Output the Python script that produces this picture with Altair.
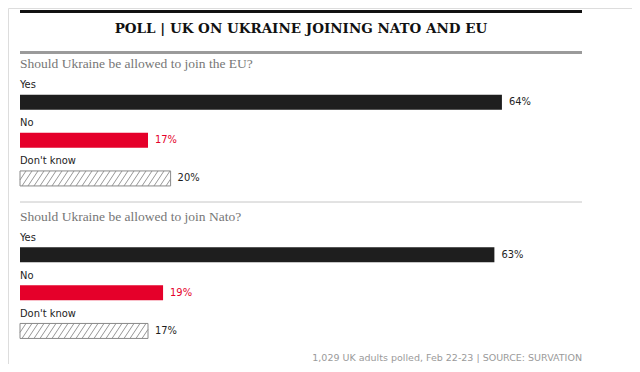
import altair as alt
import pandas as pd

# ---- data ----
QUESTIONS = ["Should Ukraine be allowed to join the EU?", "Should Ukraine be allowed to join Nato?"]
ANSWERS = ["Yes", "No", "Don't know"]
EU_VALUES = [64, 17, 20]
NATO_VALUES = [63, 19, 17]
TITLE = "POLL | UK ON UKRAINE JOINING NATO AND EU"
FOOTER = "1,029 UK adults polled, Feb 22-23 | SOURCE: SURVATION"

# ---- layout constants ----
W, H = 624, 356
X0, PX_PER_PCT = 12, 7.53
Y_TOP, Y_BOT = 37, 342
ROW_PX = (Y_BOT - Y_TOP) / 8
BAR_PX = 15
HATCH_RUN, HATCH_STEP = 10, 6

rows = []
for qi, vals in enumerate([EU_VALUES, NATO_VALUES]):
    for ai, (ans, v) in enumerate(zip(ANSWERS, vals)):
        rows.append({"question": QUESTIONS[qi], "answer": ans, "value": v,
                     "row": qi * 4 + ai + 1, "label": f"{v}%"})
df = pd.DataFrame(rows)
qdf = pd.DataFrame({"question": QUESTIONS, "row": [i * 4 for i in range(len(QUESTIONS))]})

# hatch segments for the "Don't know" bars, clipped to each bar
half = BAR_PX / 2 / ROW_PX
segs = []
for _, r in df[df["answer"] == "Don't know"].iterrows():
    wpx = r["value"] * PX_PER_PCT
    s = -HATCH_RUN
    while s < wpx:
        t0 = max(0.0, (0 - s) / HATCH_RUN)
        t1 = min(1.0, (wpx - s) / HATCH_RUN)
        if t1 > t0:
            segs.append({
                "x": (s + t0 * HATCH_RUN) / PX_PER_PCT,
                "x2": (s + t1 * HATCH_RUN) / PX_PER_PCT,
                "y": r["row"] + half - t0 * 2 * half,
                "y2": r["row"] + half - t1 * 2 * half,
            })
        s += HATCH_STEP
hdf = pd.DataFrame(segs)

xs = alt.Scale(domain=[0, 100], range=[X0, X0 + 100 * PX_PER_PCT], padding=0, nice=False)
ys = alt.Scale(domain=[-0.5, 7.5], range=[Y_TOP, Y_BOT], padding=0, nice=False, zero=False)
X = alt.X("value:Q", scale=xs, axis=None)
Y = alt.Y("row:Q", scale=ys, axis=None)

base = alt.Chart(df)
solid = base.transform_filter(alt.datum.answer != "Don't know").mark_bar(
    orient="horizontal", size=BAR_PX
).encode(
    x=X, y=Y,
    color=alt.Color("answer:N", scale=alt.Scale(domain=["Yes", "No"], range=["#1e1e1e", "#e5002a"]), legend=None),
)
dk = base.transform_filter(alt.datum.answer == "Don't know").mark_bar(
    orient="horizontal", size=BAR_PX, fill="white", stroke="#8a8a8a", strokeWidth=1
).encode(x=X, y=Y)

hatch = alt.Chart(hdf).mark_rule(color="#8a8a8a", strokeWidth=0.9).encode(
    x=alt.X("x:Q", scale=xs, axis=None), x2="x2:Q",
    y=alt.Y("y:Q", scale=ys, axis=None), y2="y2:Q",
)

NARROW = "DejaVu Sans Condensed, Liberation Sans Narrow, sans-serif"
vals = base.mark_text(align="left", baseline="middle", dx=7, font=NARROW, fontSize=11).encode(
    x=X, y=Y, text="label:N",
    color=alt.Color("answer:N", scale=alt.Scale(domain=ANSWERS, range=["#222222", "#c8143a", "#8c8c8c"]), legend=None),
)
cats = base.mark_text(align="left", baseline="middle", dy=-17, font=NARROW, fontSize=11, color="#222").encode(
    x=alt.value(X0), y=Y, text="answer:N"
)
qs = alt.Chart(qdf).mark_text(align="left", baseline="middle", font="Liberation Serif, serif",
                               fontSize=13.5, color="#767676").encode(
    x=alt.value(X0), y=alt.Y("row:Q", scale=ys, axis=None), text="question:N"
)

top_rule = alt.Chart(df).mark_rule(color="#111", strokeWidth=2).encode(
    x=alt.value(X0), x2=alt.value(574), y=alt.value(3.5))
grey_rule = alt.Chart(df).mark_rule(color="#9a9a9a", strokeWidth=2).encode(
    x=alt.value(X0), x2=alt.value(574), y=alt.value(44.5))
sep_rule = alt.Chart(df).mark_rule(color="#e2e2e2", strokeWidth=1).encode(
    x=alt.value(X0), x2=alt.value(574), y=alt.value(194))
title = alt.Chart(pd.DataFrame({"t": [TITLE]})).mark_text(
    align="center", baseline="middle", font="DejaVu Serif, serif", fontWeight="bold", fontSize=13.5, color="#111"
).encode(x=alt.value(293), y=alt.value(21), text="t:N")
footer = alt.Chart(pd.DataFrame({"t": [FOOTER]})).mark_text(
    align="right", baseline="middle", font="DejaVu Sans, sans-serif", fontSize=9.5, color="#9a9a9a"
).encode(x=alt.value(574), y=alt.value(349.5), text="t:N")

chart = alt.layer(
    top_rule, grey_rule, sep_rule, title, qs, cats, solid, dk, hatch, vals, footer
).properties(
    width=W, height=H, autosize=alt.AutoSizeParams(type="none"), padding=0
).configure_view(stroke=None).configure(background="white")

chart.save("out.html", embed_options={"renderer": "svg", "actions": False})
